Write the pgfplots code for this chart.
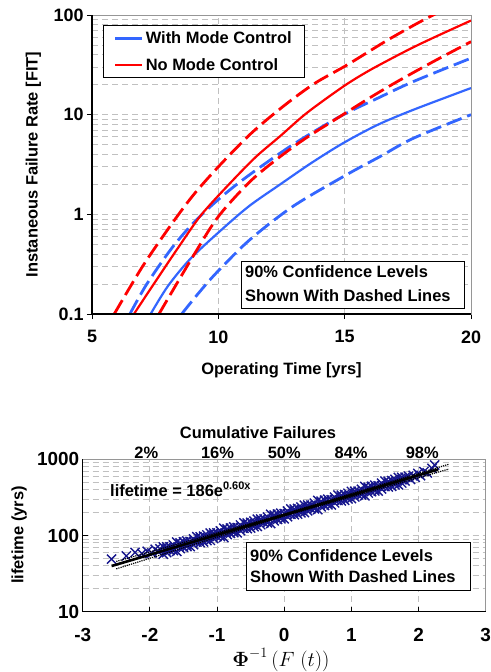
\documentclass[border=0pt]{standalone}
\usepackage{fontspec}
\setmainfont{Liberation Sans}
\usepackage{amsmath}
\usepackage{pgfplots}
\pgfplotsset{compat=1.18}
\definecolor{mblue}{RGB}{51,102,255}
\definecolor{mred}{RGB}{255,0,0}
\definecolor{gridgray}{RGB}{192,192,192}
\definecolor{boxgray}{RGB}{150,150,150}
\definecolor{navyx}{RGB}{22,22,140}
\newcommand{\ff}{\fontsize{16.5}{19.8}\selectfont\bfseries}
\newcommand{\ft}{\fontsize{18}{21}\selectfont\bfseries}
\newcommand{\ftb}{\fontsize{19}{22}\selectfont\bfseries}
\pgfplotsset{
  refgrid/.style={
    grid=both,
    major grid style={gridgray, line width=0.8bp, dash pattern=on 6bp off 4bp},
    minor grid style={gridgray, line width=0.8bp, dash pattern=on 6bp off 4bp},
    minor tick length=0bp, major tick length=5bp,
    xtick pos=left, ytick pos=left,
    tick style={black, line width=1bp},
    axis line style={draw=boxgray, line width=0.8bp},
    /pgf/number format/assume math mode=true,
    label style={font=\ff},
    after end axis/.code={\draw[black,line width=1.3bp] (rel axis cs:0,1) -- (rel axis cs:0,0) -- (rel axis cs:1,0);},
  }
}
\begin{document}
\begin{tikzpicture}
\path[use as bounding box] (0bp,0bp) rectangle (491bp,-672bp);

% ---------------- top chart ----------------
\begin{axis}[
  refgrid,
  at={(92bp,-314bp)}, anchor=south west, scale only axis,
  width=379bp, height=299bp,
  xmin=5, xmax=20, ymode=log, ymin=0.1, ymax=100,
  xtick={5,10,15,20}, xticklabels={5,10,15,20},
  ytick={0.1,1,10,100}, yticklabels={0.1,1,10,100},
  minor ytick={0.2,0.3,0.4,0.5,0.6,0.7,0.8,0.9,2,3,4,5,6,7,8,9,20,30,40,50,60,70,80,90},
  tick align=outside,
  tick label style={font=\ft},
  xticklabel style={yshift=-8bp},
  xlabel={Operating Time [yrs]},
  ylabel={Instaneous Failure Rate [FIT]},
  xlabel style={at={(axis description cs:0.5,-0.1873)}, anchor=center},
  ylabel style={at={(axis description cs:-0.1544,0.5)}, anchor=center},
  legend style={at={(axis description cs:0.029,0.9666)}, anchor=north west,
    draw=black, line width=0.8bp, fill=white, font=\ff,
    inner xsep=10.5bp, inner ysep=3.8bp, row sep=8bp,
    nodes={inner sep=2.5bp}, cells={anchor=west}},
  legend image code/.code={\draw[#1] (0bp,0bp) -- (27bp,0bp);},
]
\addlegendimage{mblue, line width=2.4bp}
\addlegendentry{With Mode Control}
\addlegendimage{mred, line width=2.4bp}
\addlegendentry{No Mode Control}

% blue (with mode control)
\addplot[forget plot, mblue, line width=2.8bp, dash pattern=on 16bp off 6bp, smooth] coordinates {
(8.55,0.1) (9.2,0.16) (9.93,0.26) (11.26,0.56) (12.97,1.21) (15.08,2.5) (16.4,3.8) (17.72,5.8) (20,10)};
\addplot[forget plot, mblue, line width=2.8bp, dash pattern=on 16bp off 6bp, smooth] coordinates {
(6.5,0.1) (7.17,0.2) (8.22,0.48) (9.28,0.96) (10.73,2.0) (12.84,4.8) (14.82,9.6) (16.3,14.6) (17.72,21.5) (20,36.9)};
\addplot[forget plot, mblue, line width=2.2bp, smooth] coordinates {
(7.32,0.1) (8,0.19) (8.88,0.355) (10,0.656) (11.2,1.2) (12.45,2.0) (13.7,3.3) (14.95,5.2) (16.3,7.9) (17.72,11.2) (20,18.5)};
% red (no mode control)
\addplot[forget plot, mred, line width=2.8bp, dash pattern=on 16bp off 6bp, smooth] coordinates {
(7.65,0.1) (9,0.38) (10,0.95) (11.26,2.14) (12.45,3.8) (13.5,5.9) (14.82,9.6) (16,14.8) (17.07,21.4) (18.5,34) (20,54)};
\addplot[forget plot, mred, line width=2.8bp, dash pattern=on 16bp off 6bp, smooth] coordinates {
(5.88,0.1) (7,0.3) (8.09,0.76) (9,1.55) (10,3.0) (11.3,6.5) (12.6,12.3) (13.8,20.5) (15.1,31.6) (16.8,58) (18.5,100) (19.5,125)};
\addplot[forget plot, mred, line width=2.2bp, smooth] coordinates {
(6.66,0.1) (7.5,0.21) (8.5,0.50) (9.34,1.0) (10.5,2.1) (11.5,3.8) (12.45,6.1) (13.5,10.4) (14.95,19.2) (16,28) (17.46,44) (18.5,59) (20,88)};
\end{axis}

\node[draw=black, line width=0.8bp, fill=white, anchor=north west, inner sep=0pt,
      minimum width=223bp, minimum height=47bp] at (241bp,-261bp) {};
\node[anchor=base west, inner sep=0pt, font=\ff] at (245bp,-277.7bp) {90\% Confidence Levels};
\node[anchor=base west, inner sep=0pt, font=\ff] at (245bp,-301bp) {Shown With Dashed Lines};

% ---------------- bottom chart ----------------
\begin{axis}[
  refgrid,
  at={(82.7bp,-611.7bp)}, anchor=south west, scale only axis,
  width=403bp, height=152.4bp,
  xmin=-3, xmax=3, ymode=log, ymin=10, ymax=1000,
  xtick={-3,-2,-1,0,1,2,3}, xticklabels={-3,-2,-1,0,1,2,3},
  ytick={10,100,1000}, yticklabels={10,100,1000},
  minor ytick={20,30,40,50,60,70,80,90,200,300,400,500,600,700,800,900},
  tick align=inside,
  clip marker paths=true,
  tick label style={font=\ftb},
  xticklabel style={yshift=-13bp},
  xlabel={$\boldsymbol{\Phi}^{-1}\,(F\;(t))$},
  ylabel={lifetime (yrs)},
  xlabel style={at={(axis description cs:0.492,-0.317)}, anchor=center, font=\fontsize{21}{24}\selectfont},
  ylabel style={at={(axis description cs:-0.158,0.503)}, anchor=center},
]
\addplot[only marks, mark=x, mark size=6.5bp, navyx, line width=1.4bp] coordinates {
(-2.57,49) (-2.35,54) (-2.22,60) (-2.12,58) (-2.04,62) (-1.97,59) (-1.92,66) (-1.87,61) (-1.85,67)
(-1.8,70.8) (-1.8,56.9) (-1.7,71.1) (-1.7,63.7) (-1.6,81.9) (-1.6,61.9) (-1.5,82.4) (-1.5,70.3)
(-1.4,83.5) (-1.4,71.5) (-1.3,96.4) (-1.3,81.9) (-1.2,97.7) (-1.2,82.4) (-1.1,107.6) (-1.1,86.5)
(-1.0,108.2) (-1.0,97.0) (-0.9,124.7) (-0.9,94.3) (-0.8,125.5) (-0.8,107.0) (-0.7,127.1) (-0.7,108.8)
(-0.6,146.7) (-0.6,124.6) (-0.5,148.8) (-0.5,125.4) (-0.4,163.9) (-0.4,131.7) (-0.3,164.7) (-0.3,147.6)
(-0.2,189.8) (-0.2,143.6) (-0.1,191.0) (-0.1,162.9) (0.0,193.4) (0.0,165.5) (0.1,223.2) (0.1,189.6)
(0.2,226.5) (0.2,190.8) (0.3,249.4) (0.3,200.4) (0.4,250.6) (0.4,224.6) (0.5,288.8) (0.5,218.5)
(0.6,290.6) (0.6,247.9) (0.7,294.4) (0.7,252.0) (0.8,339.7) (0.8,288.6) (0.9,344.7) (0.9,290.5)
(1.0,379.6) (1.0,305.0) (1.1,381.5) (1.1,341.9) (1.2,439.4) (1.2,332.4) (1.3,442.3) (1.3,377.4)
(1.4,448.1) (1.4,383.5) (1.5,517.0) (1.5,439.2) (1.6,524.7) (1.6,442.1) (1.7,577.7) (1.7,464.2)
(1.8,580.6) (1.8,520.3)
(-1.75,66.4) (-1.65,67.7) (-1.55,77.1) (-1.45,75.6) (-1.35,83.5) (-1.25,90.5) (-1.15,92.4)
(-1.05,101.0) (-0.95,103.1) (-0.85,117.3) (-0.75,115.0) (-0.65,127.2) (-0.55,137.8) (-0.45,140.6)
(-0.35,153.8) (-0.25,156.9) (-0.15,178.5) (-0.05,175.1) (0.05,193.6) (0.15,209.6) (0.25,213.9)
(0.35,234.1) (0.45,238.7) (0.55,271.7) (0.65,266.5) (0.75,294.6) (0.85,319.1) (0.95,325.6)
(1.05,356.2) (1.15,363.5) (1.25,413.5) (1.35,405.7) (1.45,448.4) (1.55,485.6) (1.65,495.6) (1.75,542.1)
(-1.75,71.0) (-1.75,59.9) (-1.65,75.3) (-1.65,63.6) (-1.55,80.0) (-1.55,67.5) (-1.45,84.9) (-1.45,71.7)
(-1.35,90.1) (-1.35,76.1) (-1.25,95.8) (-1.25,80.9) (-1.15,101.7) (-1.15,85.8) (-1.05,107.9) (-1.05,91.1)
(-0.95,114.7) (-0.95,96.8) (-0.85,121.8) (-0.85,102.8) (-0.75,129.3) (-0.75,109.1) (-0.65,137.2) (-0.65,115.8)
(-0.55,145.8) (-0.55,123.1) (-0.45,154.8) (-0.45,130.6) (-0.35,164.4) (-0.35,138.7) (-0.25,174.5) (-0.25,147.3)
(-0.15,185.3) (-0.15,156.4) (-0.05,196.7) (-0.05,166.1) (0.05,209.0) (0.05,176.4) (0.15,221.8) (0.15,187.2)
(0.25,235.5) (0.25,198.8) (0.35,250.2) (0.35,211.1) (0.45,265.5) (0.45,224.1) (0.55,282.1) (0.55,238.1)
(0.65,299.4) (0.65,252.7) (0.75,318.0) (0.75,268.4) (0.85,337.7) (0.85,285.0) (0.95,358.5) (0.95,302.6)
(1.05,380.6) (1.05,321.3) (1.15,404.3) (1.15,341.2) (1.25,429.2) (1.25,362.3) (1.35,455.8) (1.35,384.7)
(1.45,484.0) (1.45,408.5) (1.55,513.9) (1.55,433.8) (1.65,545.7) (1.65,460.6) (1.75,579.3) (1.75,489.0)
(1.85,600) (1.88,545) (1.92,615) (1.95,580) (1.99,650) (2.03,610) (2.08,690) (2.13,665) (2.2,760) (2.24,841)
};
\addplot[black, line width=1.2bp, densely dotted] coordinates {(-2.5,45.7) (0,192) (2.45,861)};
\addplot[black, line width=1.2bp, densely dotted] coordinates {(-2.5,36.5) (0,180) (2.45,744)};
\addplot[black, line width=2.6bp] coordinates {(-2.57,39.8) (2.29,734.9)};
\end{axis}

% top-axis cumulative labels
\node[font=\ff] at (258bp,-432.7bp) {Cumulative Failures};
\node[anchor=base, inner sep=0pt, font=\ff] at (146.3bp,-458.3bp) {2\%};
\node[anchor=base, inner sep=0pt, font=\ff] at (217.5bp,-458.3bp) {16\%};
\node[anchor=base, inner sep=0pt, font=\ff] at (284.3bp,-458.3bp) {50\%};
\node[anchor=base, inner sep=0pt, font=\ff] at (351.1bp,-458.3bp) {84\%};
\node[anchor=base, inner sep=0pt, font=\ff] at (422.3bp,-458.3bp) {98\%};

% fit formula
\node[anchor=base west, inner sep=0pt, font=\ff] at (110bp,-496bp)
  {lifetime = 186e\raisebox{7bp}{\fontsize{11}{13}\selectfont 0.60x}};

\node[draw=black, line width=0.8bp, fill=white, anchor=north west, inner sep=0pt,
      minimum width=224bp, minimum height=48bp] at (246bp,-542bp) {};
\node[anchor=base west, inner sep=0pt, font=\ff] at (250bp,-561bp) {90\% Confidence Levels};
\node[anchor=base west, inner sep=0pt, font=\ff] at (250bp,-582.7bp) {Shown With Dashed Lines};
\end{tikzpicture}
\end{document}
